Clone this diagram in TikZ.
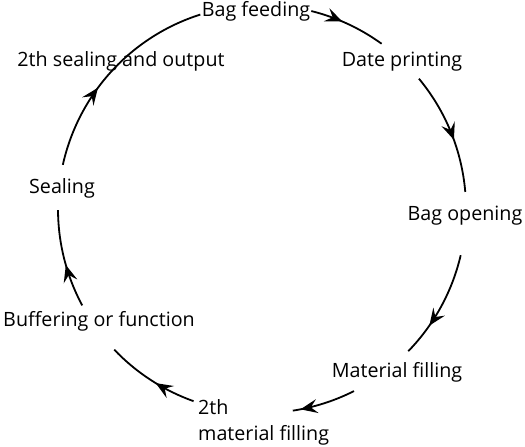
\documentclass[tikz,border=0pt]{standalone}
\usepackage{fontspec}
\setmainfont{Open Sans}
\usetikzlibrary{arrows.meta,decorations.markings}

\begin{document}
\begin{tikzpicture}[x=1pt,y=1pt,
  stagetext/.style={inner sep=0pt,anchor=base,font=\fontsize{19.7}{26.5}\selectfont},
  flow/.style={line width=1.8pt,draw=black},
  tipat/.style={decoration={markings,mark=at position #1 with {\arrow{Stealth[length=17pt,width=14pt,inset=6.5pt]}}},postaction={decorate}}
]
\useasboundingbox (-262,-238) rectangle (263,209);
% stages round the cycle
\node[stagetext] (feed) at (-6,192) {Bag feeding};
\node[stagetext] (date) at (140,142) {Date printing};
\node[stagetext] (open) at (203,-12) {Bag opening};
\node[stagetext] (fill) at (135,-168) {Material filling};
\node[stagetext,anchor=north west,align=left] (fill2) at (-64,-190) {2th\\material filling};
\node[stagetext] (buff) at (-163,-117) {Buffering or function};
\node[stagetext] (seal) at (-200,15) {Sealing};
\node[stagetext] (out) at (-141,142) {2th sealing and output};
% arcs of the circle, clockwise
\foreach \a/\b/\p [count=\i] in {76/54.1/0.42, 39.7/4.8/0.57, -13.1/-44.2/0.70, -63.2/-81.3/0.88,
    250.4/223.6/0.44, 208.2/180.3/0.44, 167.5/107.6/0.40} {
  \coordinate (arc\i) at (\a:204);
  \draw[flow,tipat=\p] (arc\i) arc[start angle=\a,end angle=\b,radius=204];
}
\end{tikzpicture}
\end{document}
